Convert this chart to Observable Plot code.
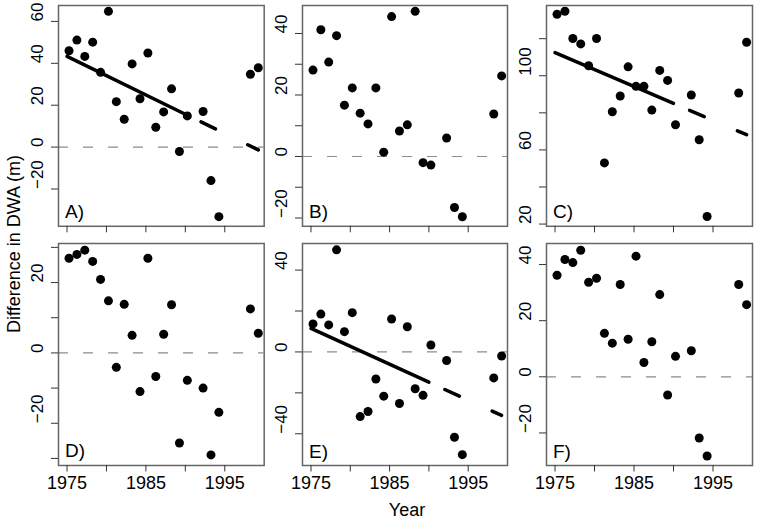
<!DOCTYPE html>
<html><head><meta charset="utf-8">
<script src="https://cdn.jsdelivr.net/npm/d3@7"></script>
<script src="https://cdn.jsdelivr.net/npm/@observablehq/plot@0.6"></script>
<style>
body{margin:0;background:#fff;}
#chart{position:relative;width:757px;height:521px;font-family:"Liberation Sans",Arial,Helvetica,sans-serif;overflow:hidden;background:#fff}
#chart svg{position:absolute;overflow:visible}
</style></head><body><div id="chart"></div>
<script>
// ---------- data ----------
const years = [1975,1976,1977,1978,1979,1980,1981,1982,1983,1984,1985,1986,1987,1988,1989,1990,1992,1993,1994,1998,1999];
const valuesA = [46.0,51.1,43.3,50.1,35.7,64.8,21.7,13.3,39.7,23.1,44.9,9.5,16.8,27.8,-2.1,14.9,17.0,-16.0,-33.2,34.8,37.9];
const valuesB = [28.1,41.2,30.7,39.3,16.7,22.3,14.1,10.6,22.3,1.4,45.5,8.3,10.3,47.2,-2.0,-2.8,6.0,-16.6,-19.6,13.8,26.2];
const valuesC = [133.2,134.8,120.1,117.2,105.4,120.1,53.0,80.6,89.1,104.8,94.3,94.3,81.5,102.9,97.5,73.6,89.6,65.5,24.1,90.7,118.1];
const valuesD = [26.9,28.0,29.2,26.0,20.9,14.8,-4.1,13.8,5.0,-11.0,26.9,-6.7,5.3,13.7,-25.6,-7.8,-10.0,-29.0,-16.9,12.5,5.6];
const valuesE = [13.7,18.5,13.2,49.9,9.9,19.2,-31.6,-29.1,-13.2,-21.6,16.1,-25.2,12.3,-18.0,-21.2,3.4,-4.2,-41.7,-50.2,-12.7,-2.0];
const valuesF = [36.2,41.8,40.7,45.1,33.7,35.1,15.5,12.0,32.9,13.4,43.0,5.1,12.5,29.3,-6.5,7.3,9.3,-21.8,-28.2,32.9,25.7];

const panelLetters = ["A)","B)","C)","D)","E)","F)"];
const xTicks = [1975,1980,1985,1990,1995];
const xTickLabels = [1975,1985,1995];
const xDomain = [1973.92, 2000.0];

const yDomainA = [-37.8, 67.6], yTicksA = [-20,0,20,40,60], yLabelsA = [-20,0,20,40,60];
const yDomainB = [-22.7, 49.1], yTicksB = [-20,-10,0,10,20,30,40], yLabelsB = [-20,0,20,40];
const yDomainC = [18.8, 137.9], yTicksC = [20,40,60,80,100,120], yLabelsC = [20,60,100];
const yDomainD = [-32.0, 31.1], yTicksD = [-30,-20,-10,0,10,20,30], yLabelsD = [-20,0,20];
const yDomainE = [-55.5, 53.0], yTicksE = [-40,-20,0,20,40], yLabelsE = [-40,0,40];
const yDomainF = [-31.6, 47.5], yTicksF = [-20,0,20,40], yLabelsF = [-20,0,20,40];

// trend lines: value at 1975 and slope per year (solid 1975-1990, dashed after)
const trendYears = [1975, 1990, 1999.25];
const trendA = [43.3, -1.84];
const trendC = [112.5, -1.827];
const trendE = [11.5, -1.753];

const xTitle = "Year";
const yTitle = "Difference in DWA (m)";

// ---------- layout ----------
const colFrames = [[58.3, 264], [302.3, 507.3], [545.7, 751.7]];
const rowFrames = [[4.7, 225.5], [243, 465]];
const FONT = '"Liberation Sans", Arial, Helvetica, sans-serif';
const fmt = d => d < 0 ? "\u2212" + Math.abs(d) : String(d);

const panels = [
  {values: valuesA, yDomain: yDomainA, yTicks: yTicksA, yLabels: yLabelsA, trend: trendA},
  {values: valuesB, yDomain: yDomainB, yTicks: yTicksB, yLabels: yLabelsB, trend: null},
  {values: valuesC, yDomain: yDomainC, yTicks: yTicksC, yLabels: yLabelsC, trend: trendC},
  {values: valuesD, yDomain: yDomainD, yTicks: yTicksD, yLabels: yLabelsD, trend: null},
  {values: valuesE, yDomain: yDomainE, yTicks: yTicksE, yLabels: yLabelsE, trend: trendE},
  {values: valuesF, yDomain: yDomainF, yTicks: yTicksF, yLabels: yLabelsF, trend: null}
];

const chart = document.getElementById("chart");

panels.forEach((p, i) => {
  const col = i % 3, row = Math.floor(i / 3);
  const bottom = row === 1;
  const [fx0, fx1] = colFrames[col];
  const [fy0, fy1] = rowFrames[row];
  const mL = 50, mT = 4, mR = 4, mB = bottom ? 45 : 12;
  const width = mL + (fx1 - fx0) + mR;
  const height = mT + (fy1 - fy0) + mB;
  const data = years.map((yr, k) => ({year: yr, value: p.values[k]}));
  const marks = [
    Plot.ruleY([0], {stroke: "#8c8c8c", strokeWidth: 1.2, strokeDasharray: "10,15", clip: true}),
    Plot.dot(data, {x: "year", y: "value", r: 4.5, fill: "#000", stroke: "none", dx: 2})
  ];
  if (p.trend) {
    const pt = t => ({year: t, value: p.trend[0] + p.trend[1] * (t - 1975)});
    marks.push(Plot.line([pt(trendYears[0]), pt(trendYears[1])], {x: "year", y: "value", stroke: "#000", strokeWidth: 3.5, strokeLinecap: "round"}));
    marks.push(Plot.line([pt(trendYears[1]), pt(trendYears[2])], {x: "year", y: "value", stroke: "#000", strokeWidth: 3.5, strokeLinecap: "round", strokeDasharray: "16,36", strokeDashoffset: 34.5}));
  }
  marks.push(Plot.frame({stroke: "#666", strokeWidth: 1.5}));
  marks.push(Plot.axisX({ticks: xTicks, tickSize: 6.5, tickPadding: 4.5, stroke: "#333", fill: "#000", fontSize: 18,
    tickFormat: d => (bottom && xTickLabels.includes(d)) ? String(d) : "", label: null}));
  marks.push(Plot.axisY({ticks: p.yTicks, tickSize: 7, stroke: "#333", tickFormat: () => "", label: null}));
  marks.push(Plot.text(p.yLabels, {y: d => d, text: d => fmt(d), frameAnchor: "left", rotate: -90, dx: -21, fontSize: 17, fill: "#000"}));
  marks.push(Plot.text([panelLetters[i]], {text: d => d, frameAnchor: "bottom-left", textAnchor: "start", lineAnchor: "bottom", dx: 6.5, dy: -8, fontSize: 19, fill: "#000"}));

  const svg = Plot.plot({
    width, height,
    marginLeft: mL, marginTop: mT, marginRight: mR, marginBottom: mB,
    x: {domain: xDomain},
    y: {domain: p.yDomain},
    style: {fontFamily: FONT, fontSize: "18px", background: "transparent", color: "#000"},
    marks
  });
  svg.style.left = (fx0 - mL) + "px";
  svg.style.top = (fy0 - mT) + "px";
  chart.appendChild(svg);
});

// axis titles
const overlay = d3.select(chart).append("svg")
  .attr("width", 757).attr("height", 521)
  .style("left", "0px").style("top", "0px").style("pointer-events", "none")
  .style("font-family", FONT);
overlay.append("text").attr("x", 407).attr("y", 515.5).attr("text-anchor", "middle")
  .attr("font-size", 18).attr("fill", "#000").text(xTitle);
overlay.append("text").attr("transform", "translate(20,244) rotate(-90)").attr("text-anchor", "middle")
  .attr("font-size", 18).attr("fill", "#000").text(yTitle);
</script></body></html>
